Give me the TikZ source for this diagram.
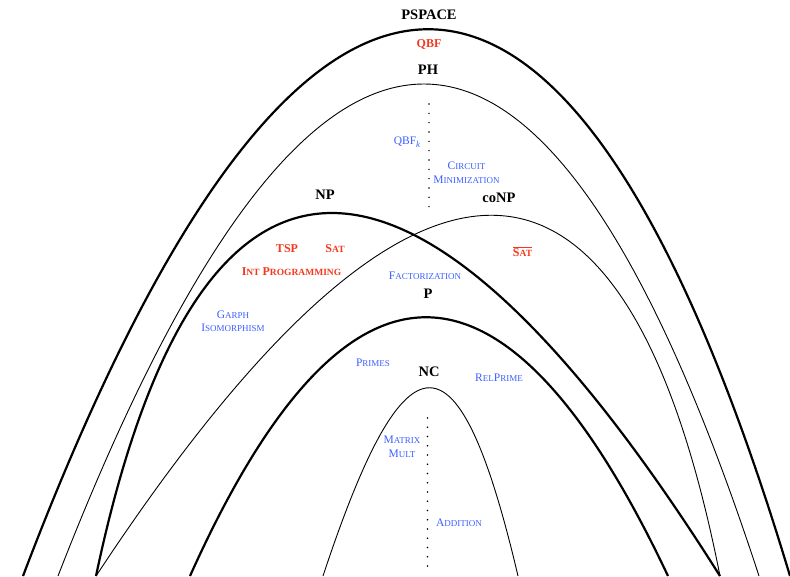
\documentclass[tikz,border=0pt]{standalone}
\usepackage{fontspec}
\setmainfont{Liberation Serif}
\definecolor{lred}{RGB}{245,55,30}
\definecolor{lblue}{RGB}{60,95,255}
\newcommand{\bsc}[1]{{\fontsize{9}{10}\selectfont #1}}
\newcommand{\rsc}[1]{{\fontsize{9.5}{10}\selectfont #1}}
\tikzset{
  heavy/.style={line width=2.2pt},
  light/.style={line width=0.9pt},
  cls/.style={inner sep=0pt, font=\bfseries\fontsize{14.5}{16}\selectfont},
  hard/.style={inner sep=0pt, text=lred, font=\bfseries\fontsize{12}{14}\selectfont},
  prob/.style={inner sep=0pt, text=lblue, align=center, font=\fontsize{11.5}{13.5}\selectfont},
  dot/.style={fill=black}
}
\begin{document}
\begin{tikzpicture}[x=1pt,y=-1pt]
\useasboundingbox (0,0) rectangle (790,576);
\clip (0,0) rectangle (790,576);
% class boundaries
\draw[heavy] (23,576) .. controls (300,-153) and (571,-153) .. (790,576);
\draw[light] (58,576) .. controls (313,-80) and (545,-80) .. (759,576);
\draw[heavy] (96,576) .. controls (198,92) and (415,92) .. (720,576);
\draw[light] (96,576) .. controls (413,95) and (625,95) .. (720,576);
\draw[heavy] (190,576) .. controls (345,231) and (505,231) .. (668,576);
\draw[light] (323,576) .. controls (406,325) and (459,325) .. (518,576);
% dotted lines
\foreach \i in {0,...,11} \fill[dot] (429,{104+9.33*\i}) circle (0.8);
\foreach \i in {0,...,16} \fill[dot] (427.5,{418+9.25*\i}) circle (0.8);
% class labels
\node[cls] (pspace) at (429,15) {PSPACE};
\node[cls] (ph) at (428,70) {PH};
\node[cls] (np) at (325,195) {NP};
\node[cls] (conp) at (499,198) {coNP};
\node[cls] (p) at (428,294) {P};
\node[cls] (nc) at (429,372) {NC};
% complete problems
\node[hard] (qbf) at (429,44) {QBF};
\node[hard] (tsp) at (287,249) {TSP};
\node[hard] (sat) at (335,249) {S\rsc{AT}};
\node[hard] (ip) at (291.5,272) {I\rsc{NT} P\rsc{ROGRAMMING}};
\node[hard] (cosat) at (522.5,252) {$\overline{\mbox{S\rsc{AT}}}$};
% other problems
\node[prob] (qbfk) at (407,142) {QBF\raisebox{-3pt}{\fontsize{9}{9}\selectfont\itshape k}};
\node[prob] (cm) at (466.5,172.5) {C\bsc{IRCUIT}\\M\bsc{INIMIZATION}};
\node[prob] (fact) at (425,276) {F\bsc{ACTORIZATION}};
\node[prob] (gi) at (233,321) {G\bsc{ARPH}\\I\bsc{SOMORPHISM}};
\node[prob] (primes) at (373,363) {P\bsc{RIMES}};
\node[prob] (relp) at (499,378) {R\bsc{EL}P\bsc{RIME}};
\node[prob] (mm) at (402,447) {M\bsc{ATRIX}\\M\bsc{ULT}};
\node[prob] (add) at (459,523) {A\bsc{DDITION}};
\end{tikzpicture}
\end{document}
